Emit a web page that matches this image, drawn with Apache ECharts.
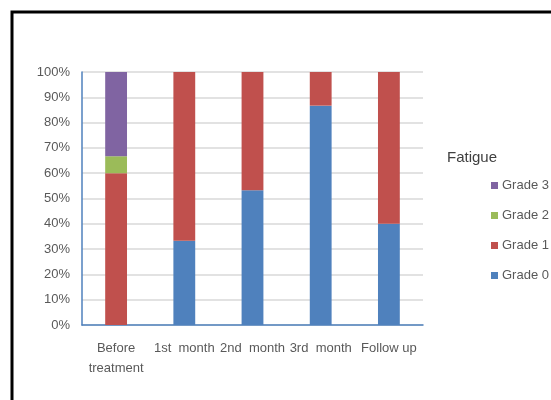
<!DOCTYPE html>
<html>
<head>
<meta charset="utf-8">
<script src="https://cdn.jsdelivr.net/npm/echarts@6/dist/echarts.min.js"></script>
<style>
html,body{margin:0;padding:0;background:#fff;}
#main{width:551px;height:400px;}
</style>
</head>
<body>
<div id="main"></div>
<script>
var categories = ['Before\ntreatment', '1st  month', '2nd  month', '3rd  month', 'Follow up'];
var grade0 = [0, 33.3, 53.3, 86.7, 40];
var grade1 = [60, 66.7, 46.7, 13.3, 60];
var grade2 = [6.7, 0, 0, 0, 0];
var grade3 = [33.3, 0, 0, 0, 0];
var yTicks = [0, 10, 20, 30, 40, 50, 60, 70, 80, 90, 100];

var myChart = echarts.init(document.getElementById('main'));
var font = 'Liberation Sans, sans-serif';

function bar(name, data, color) {
    return {
        name: name,
        type: 'bar',
        stack: 'all',
        barWidth: '32%',
        data: data,
        itemStyle: {color: color}
    };
}

var option = {
    animation: false,
    graphic: [
        {
            type: 'rect',
            shape: {x: 12, y: 12, width: 700, height: 600},
            style: {fill: 'none', stroke: '#000', lineWidth: 3}
        },
        {
            type: 'text',
            left: 447,
            top: 150,
            style: {text: 'Fatigue', font: '15px ' + font, fill: '#404040'}
        }
    ],
    legend: {
        orient: 'vertical',
        left: 486,
        top: 174,
        itemWidth: 7,
        itemHeight: 7,
        itemGap: 17,
        icon: 'rect',
        data: ['Grade 3', 'Grade 2', 'Grade 1', 'Grade 0'],
        textStyle: {fontFamily: font, fontSize: 13, color: '#595959', padding: [0, 0, 0, -1]}
    },
    grid: {left: 82, top: 72, width: 341, height: 253, containLabel: false},
    xAxis: {
        type: 'category',
        data: categories,
        axisLine: {lineStyle: {color: '#4F81BD', width: 1.5}},
        axisTick: {show: false},
        axisLabel: {fontFamily: font, fontSize: 13, color: '#595959', margin: 13, lineHeight: 20, interval: 0}
    },
    yAxis: {
        type: 'value',
        min: 0,
        max: 100,
        interval: 10,
        axisLine: {show: true, lineStyle: {color: '#4F81BD', width: 1.5}},
        axisTick: {show: false},
        splitLine: {lineStyle: {color: '#D9D9D9', width: 1.5}},
        axisLabel: {
            fontFamily: font, fontSize: 13, color: '#595959', margin: 12,
            formatter: function (v) { return yTicks.indexOf(v) >= 0 ? v + '%' : ''; }
        }
    },
    series: [
        bar('Grade 0', grade0, '#4F81BD'),
        bar('Grade 1', grade1, '#C0504D'),
        bar('Grade 2', grade2, '#9BBB59'),
        bar('Grade 3', grade3, '#8064A2')
    ]
};
myChart.setOption(option);
</script>
</body>
</html>
